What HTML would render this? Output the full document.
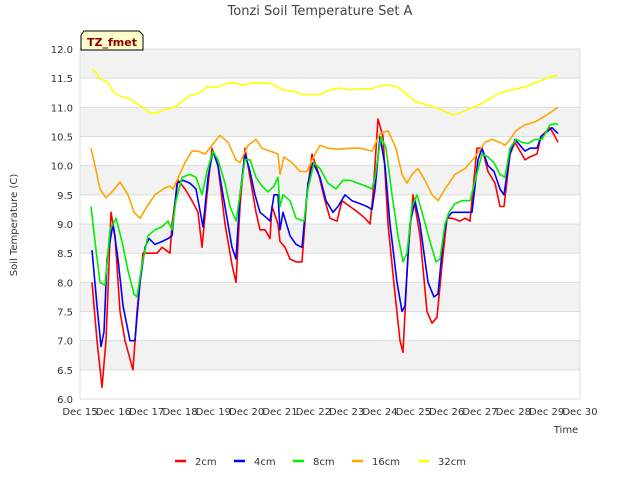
<!DOCTYPE html>
<html><head><meta charset="utf-8"><style>
body{margin:0;background:#fff;font-family:"Liberation Sans","DejaVu Sans",sans-serif;}
svg text{font-family:"DejaVu Sans","Liberation Sans",sans-serif;}
</style></head><body>
<svg id="c" width="640" height="480" xmlns="http://www.w3.org/2000/svg">
<text x="320" y="15" text-anchor="middle" font-size="13" fill="#444">Tonzi Soil Temperature Set A</text>
<g id="plot"></g>
<g id="lines"></g>
<g id="axes"></g>
<g>
<path d="M84,31 L139,31 L143,35 L143,50 L81,50 L81,35 Z" fill="#ffffcc" stroke="#000" stroke-width="1"/>
<text x="112" y="46" text-anchor="middle" font-size="11" font-weight="bold" fill="#8b0000">TZ_fmet</text>
</g>
<text x="566" y="433" text-anchor="middle" font-size="10" fill="#333">Time</text>
<text transform="translate(17,225) rotate(-90)" text-anchor="middle" font-size="10" fill="#333">Soil Temperature (C)</text>
<g id="legend"></g>
</svg>
<script>
const seriesNames=["2cm","4cm","8cm","16cm","32cm"];
const seriesColors=["#ff0000","#0000ff","#00ee00","#ffa500","#ffff00"];
const yTicks=[6.0,6.5,7.0,7.5,8.0,8.5,9.0,9.5,10.0,10.5,11.0,11.5,12.0];
const xTickLabels=["Dec 15","Dec 16","Dec 17","Dec 18","Dec 19","Dec 20","Dec 21","Dec 22","Dec 23","Dec 24","Dec 25","Dec 26","Dec 27","Dec 28","Dec 29","Dec 30"];
const s2cm=[[0.36,8.0],[0.51,7.0],[0.66,6.2],[0.78,7.0],[0.93,9.2],[1.05,8.8],[1.2,7.5],[1.35,7.0],[1.59,6.5],[1.71,7.5],[1.89,8.5],[2.1,8.5],[2.31,8.5],[2.46,8.6],[2.7,8.5],[2.76,9.0],[2.94,9.75],[3.15,9.6],[3.36,9.4],[3.54,9.2],[3.66,8.6],[3.81,9.5],[3.96,10.3],[4.14,10.0],[4.35,9.0],[4.56,8.3],[4.68,8.0],[4.8,9.3],[4.95,10.3],[5.1,9.8],[5.28,9.2],[5.4,8.9],[5.55,8.9],[5.7,8.75],[5.76,9.3],[5.94,9.0],[6.0,8.7],[6.15,8.6],[6.3,8.4],[6.48,8.35],[6.66,8.35],[6.81,9.5],[6.96,10.2],[7.14,9.9],[7.35,9.4],[7.5,9.1],[7.71,9.05],[7.86,9.4],[8.1,9.3],[8.34,9.2],[8.55,9.1],[8.7,9.0],[8.79,9.5],[8.94,10.8],[9.09,10.5],[9.24,9.0],[9.45,7.8],[9.6,7.0],[9.69,6.8],[9.84,8.5],[9.99,9.5],[10.2,8.8],[10.41,7.5],[10.56,7.3],[10.71,7.4],[10.86,8.3],[11.01,9.1],[11.16,9.1],[11.4,9.05],[11.55,9.1],[11.7,9.05],[11.91,10.3],[12.06,10.3],[12.24,9.9],[12.45,9.7],[12.6,9.3],[12.72,9.3],[12.9,10.2],[13.05,10.4],[13.2,10.25],[13.35,10.1],[13.5,10.15],[13.71,10.2],[13.83,10.5],[14.1,10.65],[14.25,10.5],[14.34,10.4]];
const s4cm=[[0.36,8.55],[0.51,7.6],[0.63,6.9],[0.72,7.15],[0.81,8.4],[0.99,9.0],[1.14,8.4],[1.29,7.6],[1.5,7.0],[1.65,7.0],[1.8,8.0],[1.95,8.6],[2.07,8.75],[2.25,8.65],[2.46,8.7],[2.64,8.75],[2.76,8.8],[2.91,9.7],[3.09,9.75],[3.3,9.7],[3.48,9.6],[3.69,8.95],[3.84,9.8],[3.99,10.25],[4.14,10.0],[4.35,9.3],[4.56,8.6],[4.68,8.4],[4.8,9.5],[4.95,10.2],[5.1,9.9],[5.25,9.5],[5.4,9.2],[5.61,9.1],[5.7,9.05],[5.82,9.5],[5.94,9.5],[6.0,8.9],[6.09,9.2],[6.3,8.8],[6.48,8.65],[6.66,8.6],[6.84,9.7],[6.99,10.05],[7.2,9.8],[7.38,9.4],[7.59,9.2],[7.74,9.3],[7.95,9.5],[8.16,9.4],[8.4,9.35],[8.61,9.3],[8.76,9.25],[8.85,9.6],[9.0,10.5],[9.15,10.0],[9.3,9.0],[9.51,8.0],[9.66,7.5],[9.75,7.6],[9.9,9.0],[10.05,9.4],[10.2,9.0],[10.44,8.0],[10.62,7.75],[10.74,7.8],[10.89,8.7],[11.01,9.1],[11.16,9.2],[11.4,9.2],[11.64,9.2],[11.76,9.2],[11.94,10.1],[12.06,10.3],[12.24,10.0],[12.42,9.9],[12.6,9.6],[12.72,9.5],[12.9,10.2],[13.05,10.45],[13.2,10.35],[13.35,10.25],[13.5,10.3],[13.71,10.3],[13.83,10.5],[14.16,10.65],[14.34,10.55]];
const s8cm=[[0.33,9.3],[0.45,8.7],[0.6,8.0],[0.75,7.95],[0.9,8.9],[1.08,9.1],[1.26,8.7],[1.44,8.2],[1.62,7.8],[1.71,7.75],[1.86,8.3],[2.04,8.8],[2.25,8.9],[2.46,8.95],[2.64,9.05],[2.76,8.9],[2.88,9.4],[3.06,9.8],[3.3,9.85],[3.48,9.8],[3.66,9.5],[3.81,9.9],[3.99,10.25],[4.14,10.1],[4.35,9.7],[4.5,9.3],[4.68,9.05],[4.8,9.5],[4.95,10.1],[5.1,10.1],[5.28,9.8],[5.46,9.65],[5.64,9.55],[5.82,9.65],[5.94,9.8],[6.0,9.3],[6.09,9.5],[6.3,9.4],[6.48,9.1],[6.72,9.05],[6.84,9.6],[7.02,10.05],[7.2,9.95],[7.44,9.7],[7.68,9.6],[7.89,9.75],[8.1,9.75],[8.34,9.7],[8.58,9.65],[8.76,9.6],[8.85,9.8],[9.03,10.5],[9.18,10.3],[9.36,9.5],[9.54,8.8],[9.69,8.35],[9.81,8.5],[9.96,9.3],[10.11,9.5],[10.26,9.2],[10.5,8.7],[10.68,8.35],[10.8,8.4],[10.95,9.0],[11.07,9.2],[11.25,9.35],[11.46,9.4],[11.7,9.4],[11.88,9.8],[12.06,10.2],[12.24,10.15],[12.42,10.05],[12.6,9.85],[12.75,9.8],[12.9,10.3],[13.08,10.45],[13.26,10.4],[13.44,10.38],[13.65,10.45],[13.86,10.45],[14.1,10.7],[14.28,10.72],[14.34,10.7]];
const s16cm=[[0.33,10.3],[0.45,10.0],[0.6,9.6],[0.78,9.45],[0.96,9.55],[1.2,9.72],[1.44,9.5],[1.62,9.2],[1.8,9.1],[2.01,9.3],[2.25,9.5],[2.55,9.62],[2.7,9.65],[2.79,9.6],[2.91,9.75],[3.15,10.05],[3.36,10.25],[3.54,10.25],[3.75,10.2],[3.96,10.35],[4.2,10.52],[4.44,10.4],[4.68,10.1],[4.8,10.05],[5.04,10.35],[5.28,10.45],[5.46,10.3],[5.7,10.25],[5.94,10.2],[6.0,9.85],[6.12,10.15],[6.36,10.05],[6.6,9.9],[6.81,9.9],[6.96,10.1],[7.2,10.35],[7.44,10.3],[7.74,10.28],[8.1,10.3],[8.4,10.3],[8.76,10.25],[9.0,10.55],[9.24,10.6],[9.48,10.3],[9.66,9.85],[9.81,9.7],[9.96,9.85],[10.14,9.95],[10.35,9.75],[10.56,9.5],[10.74,9.4],[10.95,9.6],[11.25,9.85],[11.55,9.95],[11.85,10.15],[12.15,10.4],[12.36,10.45],[12.6,10.4],[12.75,10.35],[12.9,10.45],[13.08,10.6],[13.35,10.7],[13.65,10.75],[13.95,10.85],[14.34,11.0]];
const s32cm=[[0.36,11.65],[0.48,11.6],[0.6,11.48],[0.81,11.45],[1.02,11.25],[1.26,11.18],[1.5,11.15],[1.74,11.05],[1.89,11.0],[2.1,10.9],[2.31,10.9],[2.55,10.97],[2.85,11.0],[3.06,11.1],[3.3,11.2],[3.6,11.25],[3.81,11.35],[4.14,11.35],[4.44,11.42],[4.65,11.42],[4.89,11.38],[5.16,11.42],[5.55,11.42],[5.76,11.4],[6.06,11.3],[6.45,11.27],[6.66,11.22],[6.9,11.22],[7.2,11.22],[7.5,11.3],[7.8,11.33],[8.1,11.3],[8.4,11.32],[8.76,11.32],[9.0,11.37],[9.24,11.38],[9.51,11.35],[9.75,11.25],[10.05,11.1],[10.35,11.05],[10.65,11.0],[10.95,10.93],[11.16,10.87],[11.4,10.9],[11.7,10.98],[12.0,11.05],[12.3,11.15],[12.6,11.25],[12.96,11.3],[13.35,11.35],[13.65,11.42],[14.1,11.52],[14.34,11.55]];
const allSeries=[s2cm,s4cm,s8cm,s16cm,s32cm];

const NS="http://www.w3.org/2000/svg";
const L=80,R=580,T=49,B=399,YMIN=6,YMAX=12,XMAX=15;
function xs(d){return L+(R-L)*d/XMAX;}
function ys(v){return B-(B-T)*(v-YMIN)/(YMAX-YMIN);}
function mk(tag,attrs,parent){const e=document.createElementNS(NS,tag);for(const k in attrs)e.setAttribute(k,attrs[k]);parent.appendChild(e);return e;}
const plot=document.getElementById('plot'),axes=document.getElementById('axes'),lines=document.getElementById('lines'),legend=document.getElementById('legend');
for(let i=0;i<yTicks.length-1;i++){
  if((yTicks.length-2-i)%2===0){
    const r=mk('rect',{x:L,y:ys(yTicks[i+1]),width:R-L,height:ys(yTicks[i])-ys(yTicks[i+1]),fill:'#f2f2f2'},plot);
    
    
  }
}
yTicks.forEach(v=>{
  const g=mk('line',{x1:L,x2:R,y1:ys(v),y2:ys(v),stroke:'#dcdcdc','stroke-width':1},plot);
  
  
  const t=mk('text',{x:L-7,y:ys(v)+4,'text-anchor':'end','font-size':10,fill:'#333'},axes);
  t.textContent=v.toFixed(1);
  
  
});
const fr=mk('rect',{x:L,y:T,width:R-L,height:B-T,fill:'none',stroke:'#dcdcdc'},axes);


xTickLabels.forEach((s,i)=>{
  const t=mk('text',{x:xs(i),y:415,'text-anchor':'middle','font-size':10,fill:'#333'},axes);
  t.textContent=s;
  
  
});
allSeries.forEach((s,i)=>{
  const p=mk('polyline',{points:s.map(q=>xs(q[0]).toFixed(1)+','+ys(q[1]).toFixed(1)).join(' '),fill:'none',stroke:seriesColors[i],'stroke-width':1.6,'stroke-linejoin':'round'},lines);
  
  
});
const legX=[175,234,293,352,418];
seriesNames.forEach((n,i)=>{
  const l=mk('line',{x1:legX[i],x2:legX[i]+11,y1:461,y2:461,stroke:seriesColors[i],'stroke-width':2.5},legend);
  
  
  const t=mk('text',{x:legX[i]+20,y:465,'font-size':10,fill:'#333'},legend);
  t.textContent=n;
  
  
});
</script>
</body></html>
